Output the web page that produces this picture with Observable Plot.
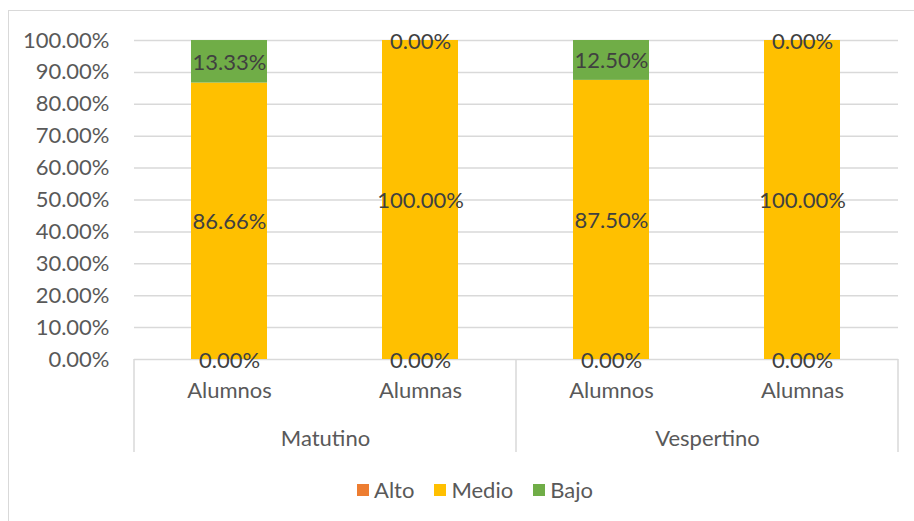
<!DOCTYPE html>
<html>
<head>
<meta charset="utf-8">
<script src="https://cdn.jsdelivr.net/npm/d3@7"></script>
<script src="https://cdn.jsdelivr.net/npm/@observablehq/plot@0.6"></script>
<style>
  html, body { margin: 0; padding: 0; background: #fff; overflow: hidden; width: 914px; height: 521px; }
  #frame { position: absolute; left: 8px; top: 10px; width: 1200px; height: 1200px; border-top: 1.5px solid #d9d9d9; border-left: 1.5px solid #d9d9d9; pointer-events: none; }
  #chart { position: absolute; left: 0; top: 0; }
  #legend { position: absolute; left: 0; top: 476px; width: 914px; display: flex; justify-content: center; align-items: center; font-family: Lato, sans-serif; font-size: 22px; color: #595959; padding-left: 36px; box-sizing: border-box; }
  .item { display: flex; align-items: center; margin: 0 10px; }
  .sw { width: 12px; height: 12px; margin-right: 5px; }
</style>
</head>
<body>
<div id="frame"></div>
<div id="chart"></div>
<div id="legend"></div>
<script>
const turnos = ["Matutino", "Matutino", "Vespertino", "Vespertino"];
const generos = ["Alumnos", "Alumnas", "Alumnos", "Alumnas"];
const niveles = ["Alto", "Medio", "Bajo"];
const alto = [0, 0, 0, 0];
const medio = [0.8666, 1.0, 0.875, 1.0];
const bajo = [0.1333, 0, 0.125, 0];
const colores = ["#ED7D31", "#FFC000", "#70AD47"];
const yTicks = [0, 0.1, 0.2, 0.3, 0.4, 0.5, 0.6, 0.7, 0.8, 0.9, 1.0];
const turnoDomain = ["Matutino", "Vespertino"];
const generoDomain = ["Alumnos", "Alumnas"];

const series = {Alto: alto, Medio: medio, Bajo: bajo};
const rows = [];
turnos.forEach((t, i) => {
  niveles.forEach(n => rows.push({turno: t, genero: generos[i], nivel: n, valor: series[n][i]}));
});

const fmt = d3.format(".2%");
const W = 914, H = 470;

const plot = Plot.plot({
  width: W,
  height: H,
  marginLeft: 133,
  marginRight: 16,
  marginTop: 40,
  marginBottom: 111,
  style: {fontFamily: "Lato, sans-serif", fontSize: "22px", color: "#595959", background: "transparent", overflow: "visible"},
  fx: {domain: turnoDomain, padding: 0, axis: null},
  x: {domain: generoDomain, paddingInner: 0.6, paddingOuter: 0.3, axis: null},
  y: {domain: [0, 1], axis: null},
  color: {domain: niveles, range: colores},
  marks: [
    Plot.gridY(yTicks, {stroke: "#d9d9d9", strokeOpacity: 1, strokeWidth: 1.5}),
    Plot.barY(rows, {fx: "turno", x: "genero", y: "valor", fill: "nivel", z: "nivel"}),
    Plot.text(rows, Plot.stackY({fx: "turno", x: "genero", y: "valor", z: "nivel", text: d => fmt(d.valor), fill: "#404040", dy: 1})),
    Plot.axisY(yTicks, {anchor: "left", tickSize: 0, tickPadding: 25, tickFormat: d3.format(".2%"), label: null, fill: "#595959"}),
    Plot.axisX({anchor: "bottom", tickSize: 0, tickPadding: 23, label: null, fill: "#595959"}),
    Plot.axisFx({anchor: "bottom", tickSize: 0, tickPadding: 71, label: null, fill: "#595959"})
  ]
});

document.getElementById("chart").appendChild(plot);

// Category-axis separator lines derived from the facet and y scales
const fx = plot.scale("fx");
const ys = plot.scale("y");
const y0 = ys.apply(0);
const edges = turnoDomain.map(d => fx.apply(d));
edges.push(fx.apply(turnoDomain[turnoDomain.length - 1]) + fx.bandwidth);
const svg = d3.select(plot);
svg.append("g").selectAll("line").data(edges).join("line")
  .attr("x1", d => d).attr("x2", d => d)
  .attr("y1", y0).attr("y2", y0 + 93)
  .attr("stroke", "#d9d9d9").attr("stroke-width", 1.5);

// Legend
const legend = d3.select("#legend");
niveles.forEach((n, i) => {
  const it = legend.append("div").attr("class", "item");
  it.append("div").attr("class", "sw").style("background", colores[i]);
  it.append("span").text(n);
});
</script>
</body>
</html>
